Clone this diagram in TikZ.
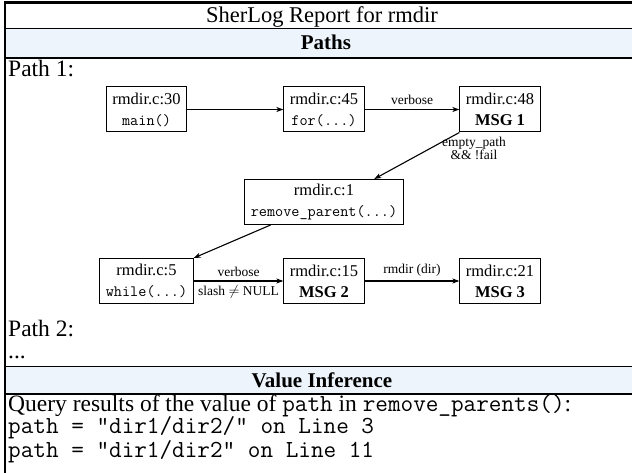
\documentclass[tikz,border=0pt]{standalone}
\usepackage{fontspec}
\setmainfont{Liberation Serif}
\usetikzlibrary{arrows.meta,calc}
\definecolor{hdrblue}{RGB}{237,244,252}
\newcommand{\bodyfont}{\fontsize{23.5}{27}\selectfont}
\newcommand{\codefont}{\fontsize{24.5}{27}\selectfont\ttfamily}
\begin{document}
\begin{tikzpicture}[x=1pt,y=-1pt,
  txt/.style={inner sep=0pt, text height=16pt, text depth=4pt, font=\bodyfont},
  code/.style={inner sep=0pt, text height=15pt, text depth=3pt, font=\codefont},
  hdr/.style={inner sep=0pt, font=\fontsize{21}{25}\selectfont\bfseries},
  box/.style={draw, line width=1pt, align=center, inner xsep=6pt, inner ysep=0pt,
    minimum height=45pt, font=\fontsize{16.5}{21}\selectfont},
  lbl/.style={inner sep=1.5pt, font=\fontsize{13.5}{13}\selectfont},
  arr/.style={line width=1.1pt, -{Stealth[length=7pt,width=5pt,inset=2pt]}},
  thinrule/.style={line width=0.9pt},
  thickrule/.style={line width=2pt}]
\useasboundingbox (0,0) rectangle (632,473);
% header bands
\fill[hdrblue] (5,28.5) rectangle (632,58);
\fill[hdrblue] (5,366) rectangle (632,394);
% rules
\draw[line width=3pt] (4,2.5) -- (632,2.5);
\draw[thickrule] (5,1) -- (5,473);
\draw[thinrule] (5,28.5) -- (632,28.5);
\draw[thickrule] (5,58) -- (632,58);
\draw[thinrule] (5,366) -- (632,366);
\draw[thickrule] (5,394) -- (632,394);
% texts
\node[inner sep=0pt, anchor=base, font=\fontsize{22.5}{26}\selectfont] (title) at (322,23) {SherLog Report for rmdir};
\node[hdr, anchor=base] (paths) at (326,50) {Paths};
\node[txt, anchor=base west] (p1) at (8,77) {Path 1:};
\node[txt, anchor=base west] (p2) at (8,336) {Path 2:};
\node[txt, anchor=base west] (dots) at (8,358) {...};
\node[hdr, anchor=base] (vi) at (322,387) {Value Inference};
\node[txt, anchor=base west] (q) at (8,411) {Query results of the value of {\codefont path} in {\codefont remove\_parents()}:};
\node[code, anchor=base west] (l1) at (8,433.5) {path = "dir1/dir2/" on Line 3};
\node[code, anchor=base west] (l2) at (8,457) {path = "dir1/dir2" on Line 11};
% nodes
\node[box] (A) at (146.5,109.5) {rmdir.c:30\\{\fontsize{15.8}{21}\selectfont\ttfamily main()}};
\node[box] (B) at (324,109.5) {rmdir.c:45\\{\fontsize{15.8}{21}\selectfont\ttfamily for(...)}};
\node[box] (C) at (500,109.5) {rmdir.c:48\\\textbf{MSG 1}};
\node[box] (D) at (324,202) {rmdir.c:1\\{\fontsize{15.8}{21}\selectfont\ttfamily remove\_parent(...)}};
\node[box] (E) at (146.5,281) {rmdir.c:5\\{\fontsize{15.8}{21}\selectfont\ttfamily while(...)}};
\node[box] (F) at (324,281) {rmdir.c:15\\\textbf{MSG 2}};
\node[box] (G) at (500,281) {rmdir.c:21\\\textbf{MSG 3}};
% connectors
\draw[arr] (A) -- (B);
\draw[arr] (B) -- node[lbl, above=3pt] (lv1) {verbose} (C);
\draw[arr] (C.south west) -- ($(D.north)!0.63!(D.north east)$);
\node[lbl, align=center] (lc) at (474,148) {empty\_path\\\&\& !fail};
\draw[arr] ($(D.south)!0.67!(D.south west)$) -- (E.north east);
\draw[arr] (E) -- node[lbl, above=2pt] (lv2) {verbose} node[lbl, below=2pt] (ls) {slash $\neq$ NULL} (F);
\draw[arr] (F) -- node[lbl, above=3pt] (lr) {rmdir (dir)} (G);
\end{tikzpicture}
\end{document}
